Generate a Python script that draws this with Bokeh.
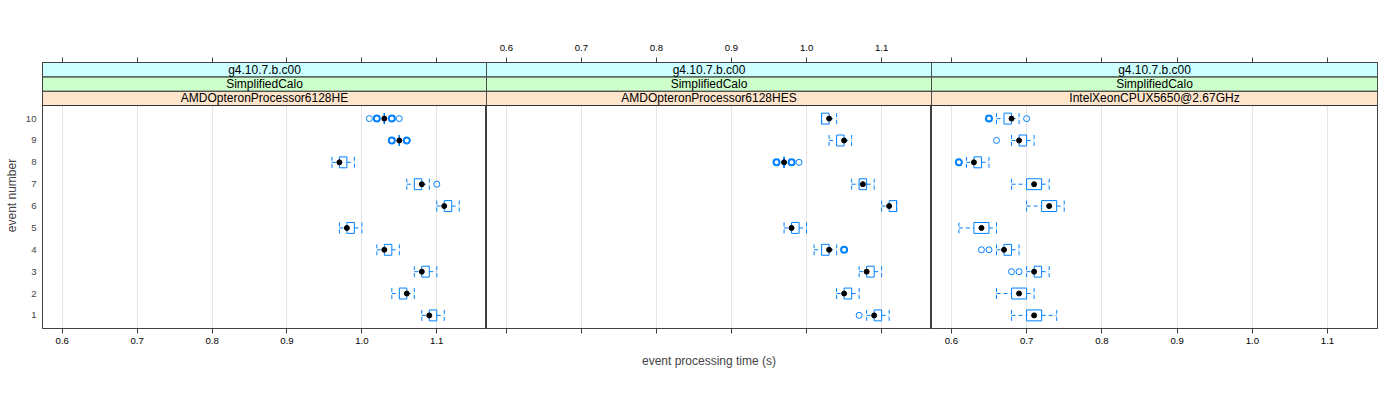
from collections import Counter

from bokeh.plotting import figure
from bokeh.layouts import row
from bokeh.models import Range1d, FixedTicker, LinearAxis, ColumnDataSource
from bokeh.core.properties import value
from bokeh.embed import file_html
from bokeh.resources import INLINE

# ---------------- data ----------------
strip_release = "g4.10.7.b.c00"
strip_app = "SimplifiedCalo"
processors = ["AMDOpteronProcessor6128HE", "AMDOpteronProcessor6128HES", "IntelXeonCPUX5650@2.67GHz"]

events = [1, 2, 3, 4, 5, 6, 7, 8, 9, 10]

# AMDOpteronProcessor6128HE
he_median = [1.09, 1.06, 1.08, 1.03, 0.98, 1.11, 1.08, 0.97, 1.05, 1.03]
he_q1 = [1.09, 1.05, 1.08, 1.03, 0.98, 1.11, 1.07, 0.97, 1.05, 1.03]
he_q3 = [1.10, 1.06, 1.09, 1.04, 0.99, 1.12, 1.08, 0.98, 1.05, 1.03]
he_low = [1.08, 1.04, 1.07, 1.02, 0.97, 1.10, 1.06, 0.96, 1.05, 1.03]
he_high = [1.11, 1.07, 1.10, 1.05, 1.00, 1.13, 1.09, 0.99, 1.05, 1.03]
he_out_event = [7, 9, 9, 9, 9, 10, 10, 10, 10, 10, 10]
he_out_time = [1.10, 1.04, 1.04, 1.06, 1.06, 1.01, 1.02, 1.02, 1.04, 1.04, 1.05]

# AMDOpteronProcessor6128HES
hes_median = [1.09, 1.05, 1.08, 1.03, 0.98, 1.11, 1.075, 0.97, 1.05, 1.03]
hes_q1 = [1.09, 1.05, 1.08, 1.02, 0.98, 1.11, 1.07, 0.97, 1.04, 1.02]
hes_q3 = [1.10, 1.06, 1.09, 1.03, 0.99, 1.12, 1.08, 0.97, 1.05, 1.03]
hes_low = [1.08, 1.04, 1.07, 1.01, 0.97, 1.10, 1.06, 0.97, 1.03, 1.02]
hes_high = [1.11, 1.07, 1.10, 1.04, 1.00, 1.12, 1.09, 0.97, 1.06, 1.04]
hes_out_event = [1, 4, 4, 8, 8, 8, 8, 8]
hes_out_time = [1.07, 1.05, 1.05, 0.96, 0.96, 0.98, 0.98, 0.99]

# IntelXeonCPUX5650@2.67GHz
xeon_median = [0.71, 0.69, 0.71, 0.67, 0.64, 0.73, 0.71, 0.63, 0.69, 0.68]
xeon_q1 = [0.70, 0.68, 0.71, 0.67, 0.63, 0.72, 0.70, 0.63, 0.69, 0.67]
xeon_q3 = [0.72, 0.70, 0.72, 0.68, 0.65, 0.74, 0.72, 0.64, 0.70, 0.68]
xeon_low = [0.68, 0.66, 0.70, 0.66, 0.61, 0.70, 0.68, 0.62, 0.68, 0.66]
xeon_high = [0.74, 0.71, 0.73, 0.69, 0.66, 0.75, 0.73, 0.65, 0.71, 0.69]
xeon_out_event = [3, 3, 4, 4, 8, 8, 9, 10, 10, 10]
xeon_out_time = [0.68, 0.69, 0.64, 0.65, 0.61, 0.61, 0.66, 0.65, 0.65, 0.70]

x_ticks = [0.6, 0.7, 0.8, 0.9, 1.0, 1.1]
x_tick_labels = ["0.6", "0.7", "0.8", "0.9", "1.0", "1.1"]
y_tick_labels = ["1", "2", "3", "4", "5", "6", "7", "8", "9", "10"]

x_label = "event processing time (s)"
y_label = "event number"

# ---------------- style / layout ----------------
FONT = "Liberation Sans"
BLUE = "#0080ff"
AXIS = "#404040"
X_START, X_END = 0.5736, 1.1664
Y_BOTTOM, Y_PANEL_TOP = 0.4, 10.6
FRAME_H = 266
PANEL_H_PX = 223
Y_TOP = Y_BOTTOM + FRAME_H * (Y_PANEL_TOP - Y_BOTTOM) / PANEL_H_PX
STRIP_H = (Y_TOP - Y_PANEL_TOP) / 3
STRIP_COLORS = ["#ffe5cc", "#ccffcc", "#ccffff"]
BORDER_TOP, BORDER_BOTTOM = 62, 52
BOX_HALF = 0.25


def style_x_axis(ax, show_labels, standoff):
    ax.ticker = FixedTicker(ticks=x_ticks)
    if show_labels:
        ax.major_label_overrides = {t: s for t, s in zip(x_ticks, x_tick_labels)}
    else:
        ax.major_label_overrides = {t: "" for t in x_ticks}
    ax.major_label_text_font = FONT
    ax.major_label_text_font_size = "9.6px"
    ax.major_label_text_color = "black"
    ax.major_label_standoff = standoff
    ax.major_tick_out = 5
    ax.major_tick_in = 0
    ax.minor_tick_out = 0
    ax.minor_tick_in = 0
    ax.major_tick_line_color = AXIS
    ax.axis_line_color = AXIS


def make_panel(idx, med, q1, q3, lo, hi, out_ev, out_t, frame_w, left_b, right_b,
               bottom_labels, top_labels, show_y, show_xlabel):
    p = figure(width=left_b + frame_w + right_b, height=BORDER_TOP + FRAME_H + BORDER_BOTTOM,
               x_range=Range1d(X_START, X_END), y_range=Range1d(Y_BOTTOM, Y_TOP),
               output_backend="svg", toolbar_location=None,
               x_axis_location="below", y_axis_location="left" if show_y else None,
               min_border_left=left_b, min_border_right=right_b,
               min_border_top=BORDER_TOP, min_border_bottom=BORDER_BOTTOM)
    p.background_fill_color = "white"
    p.border_fill_color = "white"
    p.outline_line_color = AXIS

    style_x_axis(p.xaxis[0], bottom_labels, 4)
    if show_xlabel:
        p.xaxis[0].axis_label = x_label
        p.xaxis[0].axis_label_text_font = FONT
        p.xaxis[0].axis_label_text_font_size = "12px"
        p.xaxis[0].axis_label_text_font_style = "normal"
        p.xaxis[0].axis_label_standoff = 20
    top = LinearAxis()
    style_x_axis(top, top_labels, 7)
    p.add_layout(top, "above")

    for g in p.xgrid:
        g.ticker = FixedTicker(ticks=x_ticks)
        g.grid_line_color = "#e6e6e6"
    for g in p.ygrid:
        g.visible = False

    if show_y:
        ya = p.yaxis[0]
        ya.ticker = FixedTicker(ticks=events)
        ya.major_label_overrides = {e: s for e, s in zip(events, y_tick_labels)}
        ya.major_label_text_font = FONT
        ya.major_label_text_font_size = "9.6px"
        ya.major_label_standoff = 6
        ya.major_tick_out = 0
        ya.major_tick_in = 0
        ya.minor_tick_out = 0
        ya.minor_tick_in = 0
        ya.axis_line_color = AXIS
        ya.axis_label = y_label
        ya.axis_label_text_font = FONT
        ya.axis_label_text_font_size = "12px"
        ya.axis_label_text_font_style = "normal"
        ya.axis_label_standoff = 4

    # strips
    strip_texts = [processors[idx], strip_app, strip_release]
    bottoms = [Y_PANEL_TOP + k * STRIP_H for k in range(3)]
    tops = [b + STRIP_H for b in bottoms]
    p.quad(left=[X_START] * 3, right=[X_END] * 3, bottom=bottoms, top=tops,
           fill_color=STRIP_COLORS, line_color="#333333", line_width=1)
    p.text(x=[(X_START + X_END) / 2] * 3, y=[(b + t) / 2 for b, t in zip(bottoms, tops)],
           text=strip_texts, text_align="center", text_baseline="middle",
           text_font=value(FONT), text_font_size="12px", text_color="black")

    src = ColumnDataSource(dict(
        ev=events, med=med, q1=q1, q3=q3, lo=lo, hi=hi,
        ylo=[e - BOX_HALF for e in events], yhi=[e + BOX_HALF for e in events]))

    dash = "4 3"
    # whiskers
    p.segment(x0="lo", y0="ev", x1="q1", y1="ev", source=src, line_color=BLUE, line_dash=dash, line_width=1)
    p.segment(x0="q3", y0="ev", x1="hi", y1="ev", source=src, line_color=BLUE, line_dash=dash, line_width=1)
    p.segment(x0="lo", y0="ylo", x1="lo", y1="yhi", source=src, line_color=BLUE, line_dash=dash, line_width=1)
    p.segment(x0="hi", y0="ylo", x1="hi", y1="yhi", source=src, line_color=BLUE, line_dash=dash, line_width=1)
    # box
    p.segment(x0="q1", y0="ylo", x1="q3", y1="ylo", source=src, line_color=BLUE, line_width=1)
    p.segment(x0="q1", y0="yhi", x1="q3", y1="yhi", source=src, line_color=BLUE, line_width=1)
    p.segment(x0="q1", y0="ylo", x1="q1", y1="yhi", source=src, line_color=BLUE, line_width=1)
    p.segment(x0="q3", y0="ylo", x1="q3", y1="yhi", source=src, line_color=BLUE, line_width=1)
    # median dots
    p.scatter(x="med", y="ev", source=src, marker="circle", size=5, fill_color="black", line_color="black")

    # outliers (overlapping points drawn bolder)
    counts = Counter(zip(out_ev, out_t))
    oe = [k[0] for k in counts]
    ot = [k[1] for k in counts]
    lw = [1.0 if c == 1 else 2.0 for c in counts.values()]
    osrc = ColumnDataSource(dict(ev=oe, t=ot, lw=lw))
    p.scatter(x="t", y="ev", source=osrc, marker="circle", size=6, fill_color=None,
              line_color=BLUE, line_width="lw")
    return p


p1 = make_panel(0, he_median, he_q1, he_q3, he_low, he_high, he_out_event, he_out_time,
                444, 42, 0, True, False, True, False)
p2 = make_panel(1, hes_median, hes_q1, hes_q3, hes_low, hes_high, hes_out_event, hes_out_time,
                445, 0, 0, False, True, False, True)
p3 = make_panel(2, xeon_median, xeon_q1, xeon_q3, xeon_low, xeon_high, xeon_out_event, xeon_out_time,
                446, 0, 16, True, False, False, False)

layout = row(p1, p2, p3, spacing=0)
open("out.html", "w").write(file_html(layout, INLINE))
